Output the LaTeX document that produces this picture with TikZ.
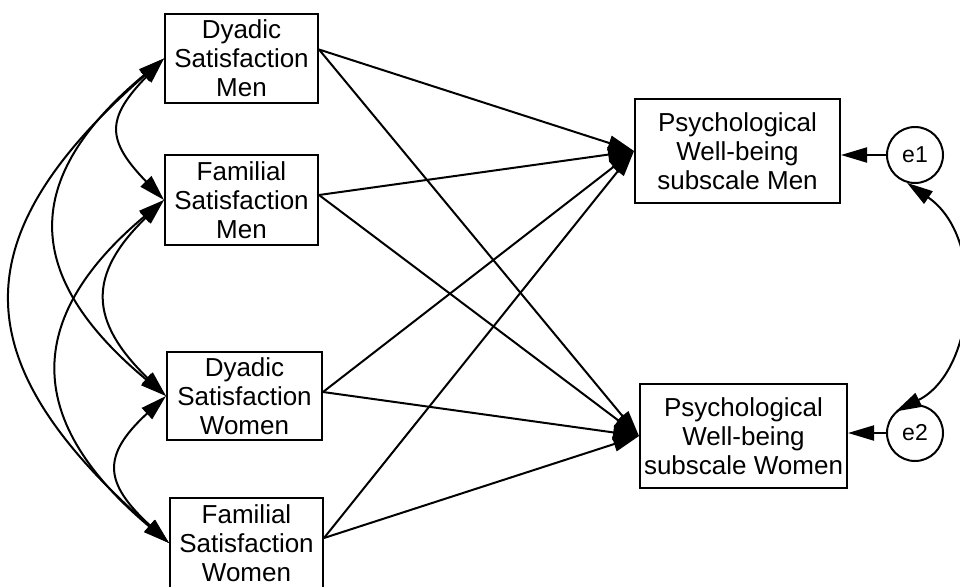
\documentclass[tikz,border=0pt]{standalone}
\usepackage{fontspec}
\setmainfont{Liberation Sans}
\usetikzlibrary{arrows.meta}
\begin{document}
\begin{tikzpicture}[x=1pt,y=-1pt,
  >={Triangle[length=26pt,width=15pt]},
  box/.style={draw, line width=2pt, inner sep=0pt, align=center,
    font=\fontsize{26}{29}\selectfont},
  err/.style={draw, circle, line width=2pt, minimum size=56pt, inner sep=0pt,
    font=\fontsize{23}{26}\selectfont},
  conn/.style={line width=2pt, ->},
  cov/.style={line width=2pt, <->}]
\useasboundingbox (0,0) rectangle (960,586);

% exogenous boxes
\node[box, minimum width=153pt, minimum height=89pt] (DSM) at (241.5,58.5) {Dyadic\\Satisfaction\\Men};
\node[box, minimum width=153pt, minimum height=90pt] (FSM) at (241.5,200) {Familial\\Satisfaction\\Men};
\node[box, minimum width=155pt, minimum height=88pt] (DSW) at (244.5,396) {Dyadic\\Satisfaction\\Women};
\node[box, minimum width=153pt, minimum height=90pt] (FSW) at (246.5,543) {Familial\\Satisfaction\\Women};

% outcome boxes
\node[box, minimum width=205pt, minimum height=104pt] (PWM) at (737.5,151) {Psychological\\Well-being\\subscale Men};
\node[box, minimum width=207pt, minimum height=104pt] (PWW) at (743.5,436) {Psychological\\Well-being\\subscale Women};

% errors
\node[err] (e1) at (915,155) {e1};
\node[err] (e2) at (915,433) {e2};

% regression paths
\draw[conn] ([yshift=9pt]DSM.east) -- (PWM.west);
\draw[conn] ([yshift=9pt]DSM.east) -- (PWW.west);
\draw[conn] ([yshift=5pt]FSM.east) -- (PWM.west);
\draw[conn] ([yshift=5pt]FSM.east) -- (PWW.west);
\draw[conn] ([yshift=4pt]DSW.east) -- (PWM.west);
\draw[conn] ([yshift=4pt]DSW.east) -- (PWW.west);
\draw[conn] ([yshift=5pt]FSW.east) -- (PWM.west);
\draw[conn] ([yshift=5pt]FSW.east) -- (PWW.west);

% error paths
\draw[conn] (e1.west) -- (e1.west -| PWM.east);
\draw[conn] (e2.west) -- (e2.west -| PWW.east);

% covariances
\draw[cov] (DSM.west) .. controls +(-58,60) and +(-58,-60) .. (FSM.west);
\draw[cov] (FSM.west) .. controls +(-77,75) and +(-77,-75) .. (DSW.west);
\draw[cov] (DSW.west) .. controls +(-65,60) and +(-65,-60) .. (FSW.west);
\draw[cov] (DSM.west) .. controls +(-144,120) and +(-144,-120) .. (DSW.west);
\draw[cov] (FSM.west) .. controls +(-143,120) and +(-143,-120) .. (FSW.west);
\draw[cov] (DSM.west) .. controls +(-205,180) and +(-205,-180) .. (FSW.west);
\draw[cov] (e1.-106) .. controls +(80,55) and +(80,-40) .. (e2.132);
\end{tikzpicture}
\end{document}
